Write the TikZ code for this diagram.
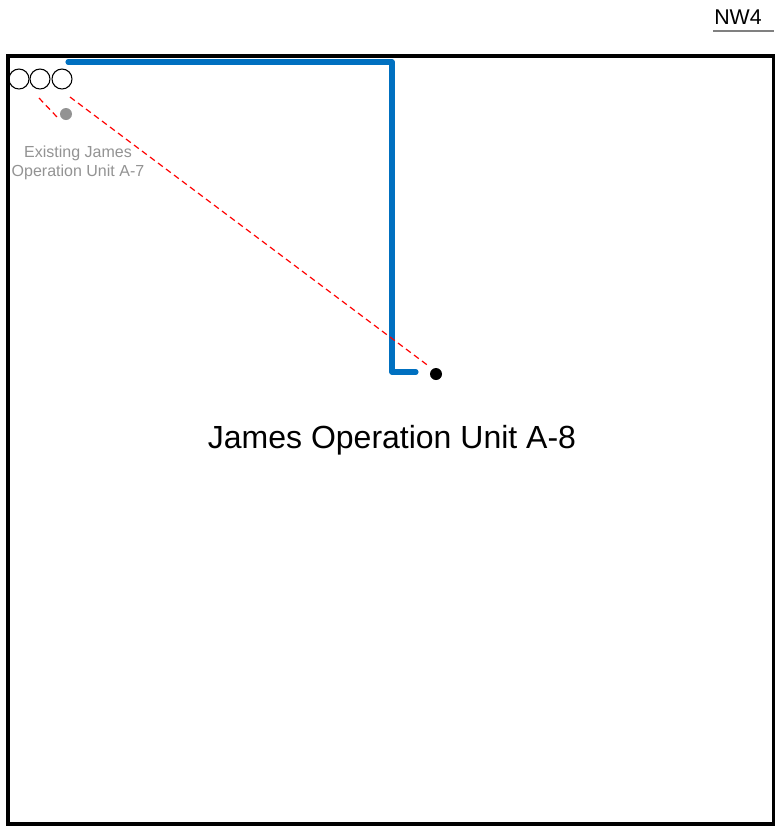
\documentclass[tikz,border=0pt]{standalone}
\usepackage{fontspec}
\setmainfont{Liberation Sans}
\begin{document}
\begin{tikzpicture}[x=0.75pt,y=-0.75pt,
  frame/.style={draw=black,line width=2.6pt},
  pipe/.style={draw={rgb,255:red,0;green,112;blue,192},line width=3.8pt,line join=round,line cap=round},
  link/.style={draw=red,line width=0.9pt,dash pattern=on 4.5pt off 3pt},
  ring/.style={circle,draw=black,line width=0.8pt,minimum size=15pt,inner sep=0pt},
  dot/.style={circle,fill=black,minimum size=9pt,inner sep=0pt},
  graydot/.style={circle,fill=gray!85,minimum size=9pt,inner sep=0pt}]
\useasboundingbox[fill=white] (0,0) rectangle (775,829);
\draw[frame] (8,56) rectangle (774,824);
% title
\node[font=\fontsize{16pt}{18pt}\selectfont,anchor=base] (nw) at (738,24) {NW4};
\coordinate (ul1) at (713,31);
\coordinate (ul2) at (774,31);
\draw[gray,line width=1.4pt] (ul1) -- (ul2);
% circles
\node[ring] (c1) at (19,79) {};
\node[ring] (c2) at (40,79) {};
\node[ring] (c3) at (62,79) {};
% blue pipe
\coordinate (p1) at (68,62);
\coordinate (p2) at (392,62);
\coordinate (p3) at (392,372);
\coordinate (p4) at (416,372);
\draw[pipe] (p1) -- (p2) -- (p3) -- (p4);
% dots
\node[graydot] (g) at (66,114) {};
\node[dot] (b) at (436,374) {};
% red dashed
\coordinate (r1) at (39,98);
\coordinate (r2) at (57,117);
\draw[link] (r1) -- (r2);
\coordinate (r3) at (70,97);
\coordinate (r4) at (430,367);
\draw[link] (r3) -- (r4);
% labels
\node[text=gray!85,font=\fontsize{12pt}{14.25pt}\selectfont,align=center] (lab7) at (78,163) {Existing James\\Operation Unit A-7};
\node[font=\fontsize{24pt}{28pt}\selectfont] (lab8) at (392,440) {James Operation Unit A-8};
\end{tikzpicture}
\end{document}
